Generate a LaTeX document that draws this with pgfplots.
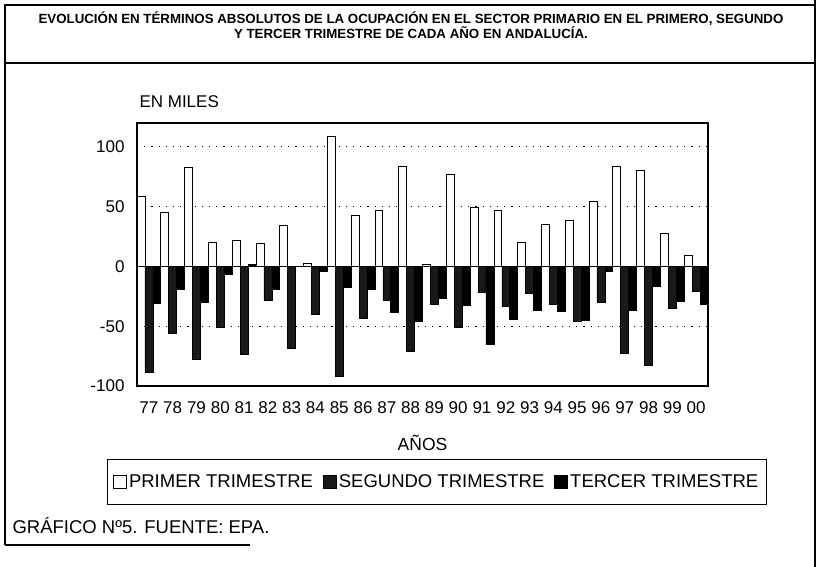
\documentclass[border=0pt]{standalone}
\usepackage{pgfplots}
\usepackage{pgfplotstable}
\pgfplotsset{compat=1.18}
\usepackage{fontspec}
\setmainfont{Liberation Sans}
\pgfplotstableread{
x p s t
0 58.6 -88.4 -30.7
1 45.6 -55.5 -19.3
2 82.9 -77.6 -29.8
3 20.4 -50.6 -6.9
4 21.8 -73.5 1.5
5 19.0 -28.0 -19.3
6 34.5 -68.5 0
7 2.5 -40.0 -4.4
8 108.8 -92.0 -17.4
9 42.8 -43.0 -19.5
10 46.9 -28.0 -38.3
11 83.8 -71.2 -46.0
12 1.5 -31.3 -26.3
13 76.8 -50.8 -32.7
14 49.7 -22.0 -64.8
15 46.9 -33.5 -43.9
16 19.8 -22.3 -36.9
17 34.9 -31.3 -37.4
18 38.3 -45.8 -45.3
19 54.2 -29.9 -3.9
20 84.1 -72.6 -36.3
21 80.2 -83.0 -16.5
22 27.4 -35.0 -29.5
23 9.0 -21.0 -31.4
}\datatable
\begin{document}
\begin{tikzpicture}[x=1pt,y=1pt]
\useasboundingbox (0,0) rectangle (822,-567);
\draw[line width=1.2pt] (5,-545) -- (5,-5) -- (815,-5);
\draw[line width=1.2pt] (815,0) -- (815,-567);
\draw[line width=1.2pt] (5,-63) -- (815,-63);
\draw[line width=1.2pt] (5,-545) -- (250,-545);
\node[font=\fontsize{13.3}{15.5}\selectfont\bfseries, align=center] at (411,-25)
  {EVOLUCIÓN EN TÉRMINOS ABSOLUTOS DE LA OCUPACIÓN EN EL SECTOR PRIMARIO EN EL PRIMERO, SEGUNDO\\Y TERCER TRIMESTRE DE CADA AÑO EN ANDALUCÍA.};
\node[anchor=west, font=\fontsize{17}{20}\selectfont] at (136,-102) {EN MILES};
\node[anchor=west, font=\fontsize{18.5}{20}\selectfont] at (9,-526) {GRÁFICO Nº5. FUENTE: EPA.};
\begin{axis}[
  at={(137pt,-386pt)}, anchor=south west,
  width=571pt, height=263pt, scale only axis,
  xmin=-0.5, xmax=23.5, ymin=-100, ymax=120,
  ybar=0pt, bar width=7.9pt,
  xtick={0,...,23},
  xticklabels={77,78,79,80,81,82,83,84,85,86,87,88,89,90,91,92,93,94,95,96,97,98,99,00},
  ytick={-100,-50,50,100},
  extra y ticks={0},
  extra y tick style={grid=major, major grid style={solid, black, line width=1.1pt}},
  ymajorgrids,
  grid style={black, line width=1.1pt, dash pattern=on 1.2pt off 6pt},
  major tick length=0pt,
  axis line style={line width=1.1pt},
  /pgf/number format/assume math mode=true,
  tick label style={font=\fontsize{17}{20}\selectfont},
  xticklabel style={yshift=-12pt, inner xsep=0pt},
  yticklabel style={xshift=-9pt},
  xlabel={AÑOS},
  xlabel style={font=\fontsize{17.5}{20}\selectfont, yshift=-15pt},
  legend columns=3,
  legend style={at={(0.525,-0.365)}, anchor=center, draw=black, line width=1.1pt,
    font=\fontsize{18.5}{22}\selectfont, inner xsep=6pt, inner ysep=13pt,
    /tikz/every even column/.append style={column sep=8pt}},
  legend image code/.code={\draw[#1, line width=0.8pt] (0pt,-6pt) rectangle (13pt,7pt);},
]
\addplot[draw=black, fill=white, line width=0.8pt] table[x=x, y=p] {\datatable};
\addplot[draw=black, fill=black!90, line width=0.6pt] table[x=x, y=s] {\datatable};
\addplot[draw=black, fill=black, line width=0.6pt] table[x=x, y=t] {\datatable};
\legend{PRIMER TRIMESTRE, SEGUNDO TRIMESTRE, TERCER TRIMESTRE}
\end{axis}
\end{tikzpicture}
\end{document}
